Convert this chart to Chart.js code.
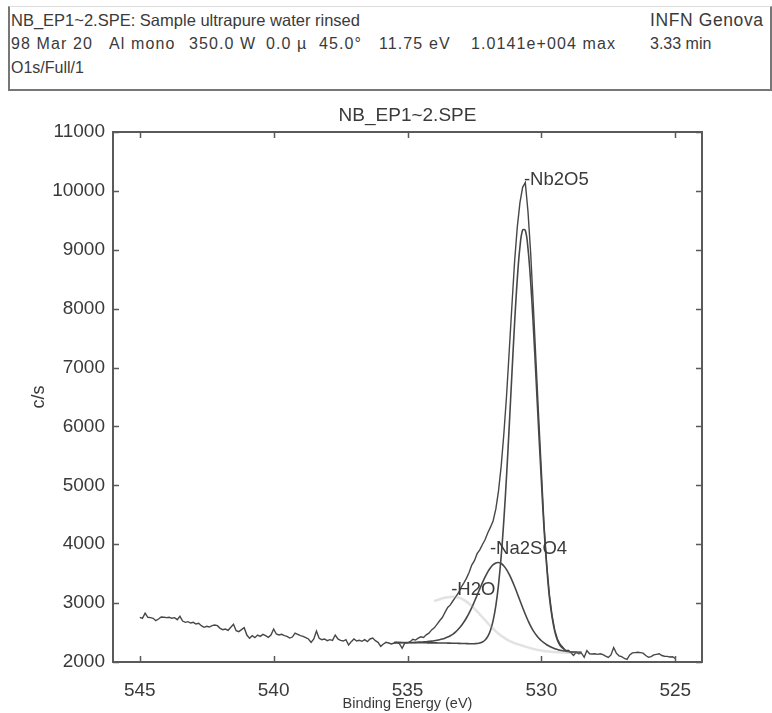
<!DOCTYPE html>
<html>
<head>
<meta charset="utf-8">
<script src="https://cdn.jsdelivr.net/npm/chart.js@4/dist/chart.umd.min.js"></script>
<style>
	html, body { margin: 0; padding: 0; background: #fff; }
	body { width: 772px; height: 713px; position: relative; overflow: hidden; font-family: 'Liberation Sans', Arial, sans-serif; color: #3a3a3a; }
	#hdr { position: absolute; left: 8px; top: 6px; width: 760px; height: 82px; border-left: 2px solid #777; border-right: 2px solid #777; border-bottom: 2px solid #777; border-top: 1px solid #ddd; }
	#hdr span { position: absolute; font-size: 16px; white-space: pre; }
	#hdr .wide { letter-spacing: 1.1px; }
	#chart { position: absolute; left: 0; top: 0; }
</style>
</head>
<body>
<div id="hdr">
	<span style="left:1px;top:4px;font-size:16.5px">NB_EP1~2.SPE: Sample ultrapure water rinsed</span>
	<span style="left:640px;top:3px;font-size:17.5px;letter-spacing:0.6px">INFN Genova</span>
	<span class="wide" style="left:1px;top:28px">98 Mar 20</span>
	<span class="wide" style="left:99px;top:28px">Al mono</span>
	<span class="wide" style="left:179px;top:28px">350.0 W</span>
	<span class="wide" style="left:256px;top:28px">0.0 µ</span>
	<span class="wide" style="left:309px;top:28px">45.0°</span>
	<span class="wide" style="left:369px;top:28px">11.75 eV</span>
	<span class="wide" style="left:461px;top:28px">1.0141e+004 max</span>
	<span style="left:640px;top:28px">3.33 min</span>
	<span style="left:1px;top:52px">O1s/Full/1</span>
</div>
<canvas id="chart" width="772" height="713"></canvas>
<script>
// O1s spectrum, raw counts every 0.1 eV from 545.0 down to 525.0 eV
var RAW_START = 545.0;
var RAW_STEP  = 0.1;
var rawCounts = [
	2759, 2742, 2830, 2759, 2753, 2742, 2702, 2730, 2764, 2759,
	2753, 2759, 2742, 2753, 2719, 2776, 2696, 2674, 2685, 2662,
	2674, 2645, 2657, 2617, 2589, 2606, 2594, 2617, 2628, 2617,
	2572, 2549, 2560, 2538, 2589, 2640, 2532, 2515, 2549, 2583,
	2458, 2402, 2447, 2413, 2458, 2436, 2470, 2447, 2419, 2458,
	2560, 2475, 2458, 2470, 2447, 2436, 2407, 2424, 2492, 2470,
	2447, 2436, 2413, 2391, 2334, 2391, 2526, 2402, 2379, 2391,
	2362, 2379, 2368, 2458, 2391, 2368, 2356, 2379, 2289, 2345,
	2391, 2356, 2368, 2351, 2379, 2345, 2391, 2407, 2362, 2334,
	2266, 2306, 2334, 2323, 2306, 2323, 2334, 2311, 2232, 2323,
	2325, 2345, 2385, 2372, 2405, 2428, 2418, 2462, 2490, 2545,
	2580, 2640, 2700, 2755, 2842, 2925, 2970, 3040, 3105, 3172,
	3265, 3340, 3420, 3520, 3645, 3720, 3840, 3905, 3995, 4080,
	4195, 4290, 4400, 4600, 4905, 5330, 5880, 6520, 7280, 8050,
	8800, 9380, 9800, 10060, 10141, 9650, 8950, 8050, 7100, 6150,
	5250, 4330, 3660, 3150, 2790, 2540, 2390, 2300, 2250, 2190,
	2200,
	2160, 2110, 2165, 2140, 2150, 2080, 2195, 2140, 2135, 2140,
	2130, 2140, 2125, 2100, 2078, 2120, 2245, 2150, 2105, 2090,
	2060, 2045, 2120, 2155, 2160, 2165, 2160, 2150, 2110, 2080,
	2090, 2120, 2130, 2140, 2110, 2098, 2095, 2085, 2090, 2060
];

// fitted components, every 0.1 eV from 535.5 down to 528.5 eV
var FIT_START = 535.5;
var FIT_STEP  = 0.1;
var nb2o5Counts = [
	2329, 2329, 2329, 2328, 2328, 2328,
	2328, 2327, 2327, 2327, 2326, 2326, 2326, 2325, 2325, 2324,
	2324, 2323, 2323, 2322, 2321, 2320, 2319, 2318, 2317, 2315,
	2314, 2312, 2311, 2310, 2311, 2313, 2321, 2339, 2373, 2436,
	2541, 2707, 2958, 3315, 3799, 4417, 5163, 6005, 6892, 7751,
	8497, 9047, 9336, 9330, 9023, 8458, 7699, 6828, 5931, 5080,
	4260, 3620, 3100, 2760, 2520, 2370, 2280, 2235, 2200, 2181,
	2170, 2165, 2162, 2161, 2160
];
var na2so4Counts = [
	2329, 2330, 2330, 2330, 2331, 2331,
	2332, 2332, 2334, 2337, 2338, 2341, 2345, 2350, 2354, 2360,
	2368, 2378, 2390, 2405, 2423, 2446, 2475, 2512, 2558, 2610,
	2674, 2747, 2831, 2923, 3027, 3134, 3242, 3348, 3445, 3531,
	3602, 3653, 3683, 3690, 3672, 3631, 3569, 3487, 3390, 3281,
	3164, 3044, 2925, 2811, 2705, 2608, 2528, 2464, 2407, 2361,
	2325, 2293, 2267, 2246, 2227, 2213, 2201, 2192, 2185, 2179,
	2173, 2170, 2167, 2165, 2163
];
var h2oCounts = [
	null, null, null, null, null, null,
	null, null, null, null, null, null, null, null, null, 3030,
	3050, 3065, 3080, 3092, 3100, 3105, 3108, 3105, 3095, 3080,
	3055, 3025, 2990, 2950, 2905, 2860, 2810, 2760, 2710, 2660,
	2610, 2565, 2520, 2480, 2445, 2415, 2385, 2360, 2340, 2320,
	2305, 2290, 2276, 2262, 2248, 2235, 2222, 2210, 2202, 2195,
	2188, 2182, 2177, 2172, 2168, 2165, 2163, 2160, 2159, 2158,
	2158, 2157, 2157, 2156, 2156
];

var xTicks = [ 545, 540, 535, 530, 525 ];
var yTicks = [ 2000, 3000, 4000, 5000, 6000, 7000, 8000, 9000, 10000, 11000 ];

var peakLabels = [
	{ text: '-Nb2O5',  energy: 530.65, counts: 10185 },
	{ text: '-Na2SO4', energy: 531.92, counts: 3920 },
	{ text: '-H2O',    energy: 533.37, counts: 3225 }
];

( function () {
	'use strict';

	var INK   = '#474747';
	var TEXT  = '#3a3a3a';
	var FONT  = "'Liberation Sans', Arial, sans-serif";

	function toPoints( start, step, values ) {
		var pts = [];
		for ( var i = 0; i < values.length; i++ ) {
			pts.push( { x: +( start - i * step ).toFixed( 2 ), y: values[ i ] } );
		}
		return pts;
	}

	// frame, inward tick marks, titles and peak names
	var decorations = {
		id: 'xpsDecor',
		afterDraw: function ( chart ) {
			var ctx  = chart.ctx;
			var area = chart.chartArea;
			var xs   = chart.scales.x;
			var ys   = chart.scales.y;
			var i, p;

			ctx.save();
			ctx.strokeStyle = '#5a5a5a';
			ctx.lineWidth   = 2;
			ctx.strokeRect( area.left, area.top, area.right - area.left, area.bottom - area.top );

			ctx.lineWidth = 1.5;
			ctx.beginPath();
			for ( i = 0; i < xTicks.length; i++ ) {
				p = Math.round( xs.getPixelForValue( xTicks[ i ] ) ) + 0.5;
				ctx.moveTo( p, area.bottom );
				ctx.lineTo( p, area.bottom - 6 );
				ctx.moveTo( p, area.top );
				ctx.lineTo( p, area.top + 6 );
			}
			for ( i = 0; i < yTicks.length; i++ ) {
				p = Math.round( ys.getPixelForValue( yTicks[ i ] ) ) + 0.5;
				ctx.moveTo( area.left, p );
				ctx.lineTo( area.left + 6, p );
				ctx.moveTo( area.right, p );
				ctx.lineTo( area.right - 6, p );
			}
			ctx.stroke();

			ctx.fillStyle    = TEXT;
			ctx.textBaseline = 'middle';
			ctx.textAlign    = 'center';
			ctx.font = '19px ' + FONT;
			ctx.fillText( 'NB_EP1~2.SPE', ( area.left + area.right ) / 2, 116 );
			ctx.font = '14.5px ' + FONT;
			ctx.fillText( 'Binding Energy (eV)', ( area.left + area.right ) / 2, 704 );

			ctx.save();
			ctx.font = '18px ' + FONT;
			ctx.translate( 39, ( area.top + area.bottom ) / 2 );
			ctx.rotate( -Math.PI / 2 );
			ctx.fillText( 'c/s', 0, 0 );
			ctx.restore();

			ctx.textAlign = 'left';
			ctx.font = '18.5px ' + FONT;
			for ( i = 0; i < peakLabels.length; i++ ) {
				ctx.fillText(
					peakLabels[ i ].text,
					xs.getPixelForValue( peakLabels[ i ].energy ),
					ys.getPixelForValue( peakLabels[ i ].counts )
				);
			}
			ctx.restore();
		}
	};

	function lineSet( data, color, width, tension ) {
		return {
			data:        data,
			borderColor: color,
			borderWidth: width,
			pointRadius: 0,
			fill:        false,
			tension:     tension,
			spanGaps:    false
		};
	}

	function plainTick( v ) {
		return String( v );
	}

	new Chart( document.getElementById( 'chart' ), {
		type: 'line',
		data: {
			datasets: [
				lineSet( toPoints( FIT_START, FIT_STEP, h2oCounts ), 'rgba(150,150,150,0.28)', 2.5, 0.4 ),
				lineSet( toPoints( FIT_START, FIT_STEP, na2so4Counts ), INK, 1.6, 0.4 ),
				lineSet( toPoints( FIT_START, FIT_STEP, nb2o5Counts ), INK, 1.6, 0.4 ),
				lineSet( toPoints( RAW_START, RAW_STEP, rawCounts ), INK, 1.4, 0 )
			]
		},
		options: {
			responsive: false,
			animation:  false,
			events:     [],
			layout:     { padding: { left: 0, top: 132, right: 70, bottom: 0 } },
			plugins:    {
				legend:  { display: false },
				tooltip: { enabled: false },
				title:   { display: false }
			},
			scales: {
				x: {
					type:    'linear',
					reverse: true,
					min:     524,
					max:     546,
					grid:    { display: false, drawTicks: false },
					border:  { display: false },
					ticks:   {
						color:    TEXT,
						padding:  17,
						font:     { family: FONT, size: 19 },
						maxRotation: 0,
						callback: plainTick
					},
					afterBuildTicks: function ( axis ) {
						axis.ticks = xTicks.map( function ( v ) { return { value: v }; } );
					},
					afterFit: function ( axis ) { axis.height = 51; }
				},
				y: {
					type:   'linear',
					min:    2000,
					max:    11000,
					grid:   { display: false, drawTicks: false },
					border: { display: false },
					ticks:  {
						color:    TEXT,
						padding:  8,
						font:     { family: FONT, size: 19 },
						callback: plainTick
					},
					afterBuildTicks: function ( axis ) {
						axis.ticks = yTicks.map( function ( v ) { return { value: v }; } );
					},
					afterFit: function ( axis ) { axis.width = 113; }
				}
			}
		},
		plugins: [ decorations ]
	} );
} )();
</script>
</body>
</html>
